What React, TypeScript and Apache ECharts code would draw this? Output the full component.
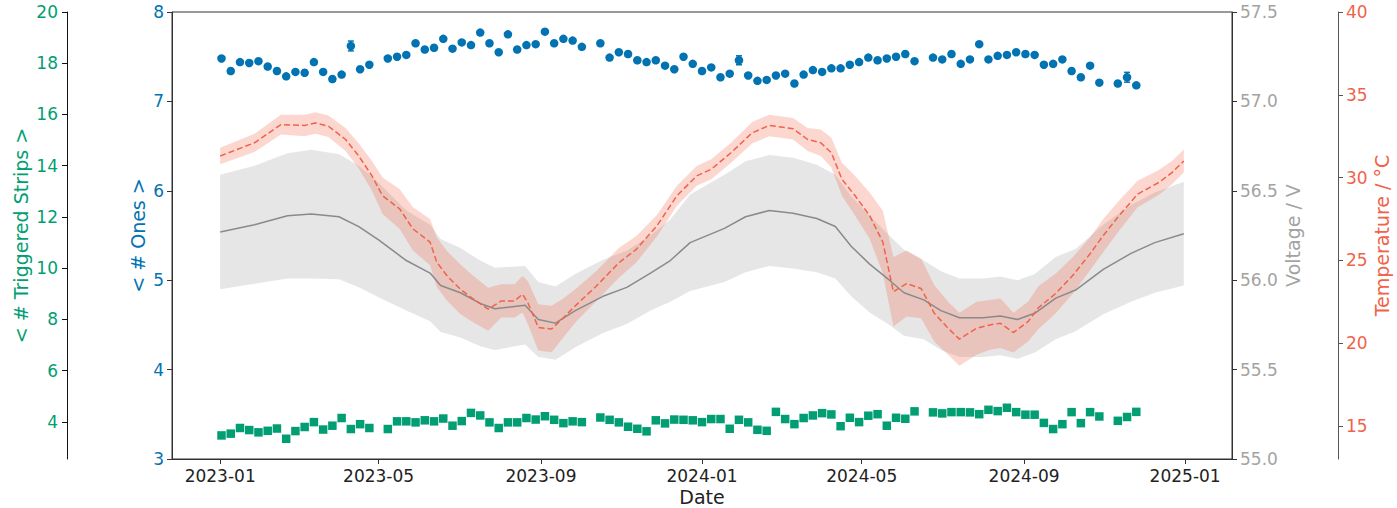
import React, { useEffect, useRef } from "react";
import * as echarts from "echarts";

const DAY = 86400000;
const ORIGIN = Date.UTC(2023, 0, 1);
const X_MIN = ORIGIN - 36.5 * DAY;
const X_MAX = ORIGIN + 730 * DAY + 36.5 * DAY;

const xTickLabels = ["2023-01", "2023-05", "2023-09", "2024-01", "2024-05", "2024-09", "2025-01"];
const onesTicks = [3, 4, 5, 6, 7, 8];
const stripsTicks = [4, 6, 8, 10, 12, 14, 16, 18, 20];
const voltTicks = [55.0, 55.5, 56.0, 56.5, 57.0, 57.5];
const tempTicks = [15, 20, 25, 30, 35, 40];

// weekly points, first one on day 1 (2023-01-02)
const firstWeekDay = 1;
const onesValues = [
  7.48, 7.34, 7.44, 7.43, 7.45, 7.39, 7.34, 7.28, 7.33, 7.32,
  7.44, 7.33, 7.25, 7.30, 7.62, 7.36, 7.41, null, 7.48, 7.50,
  7.52, 7.65, 7.58, 7.60, 7.70, 7.59, 7.66, 7.63, 7.77, 7.65,
  7.55, 7.75, 7.58, 7.63, 7.64, 7.78, 7.65, 7.70, 7.68, 7.61,
  null, 7.65, 7.49, 7.55, 7.53, 7.46, 7.44, 7.46, 7.40, 7.36,
  7.50, 7.42, 7.34, 7.38, 7.27, 7.31, 7.46, 7.29, 7.23, 7.24,
  7.29, 7.31, 7.20, 7.30, 7.35, 7.33, 7.37, 7.37, 7.41, 7.44,
  7.49, 7.46, 7.48, 7.50, 7.53, 7.45, null, 7.49, 7.47, 7.53,
  7.42, 7.47, 7.64, 7.47, 7.51, 7.52, 7.55, 7.53, 7.52, 7.41,
  7.42, 7.47, 7.34, 7.27, 7.40, 7.21, null, 7.20, 7.27, 7.18,
];
const onesErrIndex = [14, 56, 98];
const onesErrValue = [0.055, 0.05, 0.055];

const stripsValues = [
  3.47, 3.54, 3.76, 3.68, 3.59, 3.65, 3.74, 3.34, 3.64, 3.80,
  3.99, 3.70, 3.85, 4.15, 3.72, 3.91, 3.76, null, 3.72, 4.02,
  4.02, 3.98, 4.06, 4.02, 4.13, 3.85, 4.03, 4.35, 4.25, 3.98,
  3.76, 3.98, 3.98, 4.15, 4.09, 4.22, 4.08, 3.95, 4.02, 3.99,
  null, 4.17, 4.08, 3.98, 3.81, 3.73, 3.63, 4.06, 3.94, 4.09,
  4.08, 4.06, 3.99, 4.11, 4.11, 3.73, 4.08, 3.98, 3.69, 3.65,
  4.39, 4.11, 3.91, 4.15, 4.25, 4.34, 4.29, 3.83, 4.16, 3.99,
  4.24, 4.30, 3.85, 4.16, 4.12, 4.41, null, 4.37, 4.33, 4.38,
  4.38, 4.37, 4.30, 4.47, 4.42, 4.55, 4.38, 4.28, 4.28, 3.96,
  3.72, 3.91, 4.38, 3.95, 4.38, 4.21, null, 4.04, 4.19, 4.39,
];

// temperature curve, days since 2023-01-01
const tempDays = [
  0, 26, 46, 64, 72, 82, 95, 105, 115, 123,
  136, 146, 159, 164, 172, 182, 192, 203, 213, 223,
  229, 233, 241, 251, 259, 269, 285, 302, 315, 331,
  346, 361, 372, 387, 403, 416, 434, 445, 455, 463,
  471, 481, 492, 502, 510, 520, 531, 541, 552, 560,
  573, 583, 591, 601, 612, 620, 633, 646, 659, 669,
  682, 695, 711, 721, 730,
];
const tempMean = [
  31.3, 32.1, 33.2, 33.15, 33.3, 33.1, 32.3, 31.3, 30.1, 28.9,
  28.1, 26.9, 26.1, 24.9, 24.05, 23.25, 22.65, 22.05, 22.55, 22.55,
  22.95, 22.45, 20.95, 20.85, 21.45, 22.25, 23.45, 24.85, 25.65, 27.1,
  28.9, 30.1, 30.5, 31.5, 32.7, 33.15, 32.95, 32.3, 32.1, 31.5,
  29.9, 28.9, 27.7, 26.1, 23.1, 23.6, 23.3, 21.8, 20.85, 20.24,
  20.9, 21.1, 21.2, 20.64, 21.3, 22.15, 23.0, 24.1, 25.4, 26.5,
  27.8, 29.0, 29.7, 30.3, 31.0,
];
const tempHalf = [
  0.5, 0.55, 0.6, 0.65, 0.65, 0.65, 0.7, 0.75, 0.9, 1.1,
  1.2, 1.3, 1.4, 1.5, 1.5, 1.5, 1.4, 1.3, 1.0, 1.0,
  1.1, 1.3, 1.4, 1.4, 1.2, 1.0, 0.9, 0.9, 0.8, 0.65,
  0.6, 0.6, 0.6, 0.6, 0.65, 0.65, 0.65, 0.7, 0.8, 0.9,
  1.0, 1.2, 1.4, 1.9, 2.1, 2.0, 1.8, 1.7, 1.6, 1.6,
  1.6, 1.5, 1.5, 1.2, 1.2, 1.3, 1.2, 1.1, 1.0, 1.0,
  0.9, 0.8, 0.75, 0.7, 0.7,
];

// voltage curve
const voltDays = [
  0, 26, 51, 69, 90, 105, 120, 141, 159, 167,
  182, 197, 208, 231, 241, 254, 269, 290, 308, 326,
  341, 356, 382, 398, 416, 434, 452, 466, 478, 492,
  507, 518, 533, 546, 560, 578, 591, 604, 617, 633,
  648, 669, 690, 708, 730,
];
const voltMean = [
  56.27, 56.31, 56.36, 56.37, 56.355, 56.30, 56.225, 56.11, 56.04, 55.97,
  55.93, 55.87, 55.84, 55.86, 55.78, 55.76, 55.83, 55.91, 55.96, 56.04,
  56.11, 56.21, 56.29, 56.355, 56.39, 56.375, 56.345, 56.30, 56.19, 56.09,
  56.00, 55.93, 55.89, 55.83, 55.79, 55.79, 55.80, 55.78, 55.815, 55.90,
  55.945, 56.06, 56.15, 56.21, 56.26,
];
const voltHalf = [
  0.32, 0.33, 0.35, 0.36, 0.35, 0.34, 0.32, 0.28, 0.27, 0.26,
  0.25, 0.24, 0.23, 0.22, 0.21, 0.205, 0.205, 0.205, 0.205, 0.21,
  0.23, 0.27, 0.30, 0.31, 0.31, 0.31, 0.30, 0.29, 0.28, 0.27,
  0.25, 0.24, 0.22, 0.22, 0.22, 0.22, 0.22, 0.22, 0.22, 0.23,
  0.23, 0.25, 0.27, 0.28, 0.29,
];

const BLUE = "#0173b2";
const GREEN = "#029e73";
const RED = "#f0634a";
const GRAY_TXT = "#a3a3a3";
const GRAY_LINE = "#8a8a8a";
const SPINE = "#333333";
const FONT = "DejaVu Sans";

function labelToTs(s: string) {
  const [y, m] = s.split("-").map(Number);
  return Date.UTC(y, m - 1, 1);
}
function fmtTs(v: number) {
  const d = new Date(v);
  const m = d.getUTCMonth() + 1;
  return d.getUTCFullYear() + "-" + (m < 10 ? "0" + m : "" + m);
}

function bandSeries(ts: number[], lo: number[], hi: number[], yAxisIndex: number, fill: string) {
  return {
    type: "custom",
    yAxisIndex,
    silent: true,
    clip: true,
    data: ts.map((t, i) => [t, lo[i], hi[i]]),
    encode: { x: 0, y: [1, 2] },
    renderItem: (params: any, api: any) => {
      if (params.dataIndex !== 0) return null;
      const upper = ts.map((t, i) => api.coord([t, hi[i]]));
      const lower = ts.map((t, i) => api.coord([t, lo[i]])).reverse();
      return {
        type: "polygon",
        shape: { points: upper.concat(lower) },
        style: { fill, stroke: "none" },
      };
    },
  };
}

export default function App() {
  const ref = useRef<HTMLDivElement>(null);
  useEffect(() => {
    if (!ref.current) return;
    const chart = echarts.init(ref.current, undefined, { renderer: "svg" });

    const xTicks = xTickLabels.map(labelToTs);
    const weekTs = (i: number) => ORIGIN + (firstWeekDay + 7 * i) * DAY;

    const onesData: any[] = [];
    onesValues.forEach((v, i) => { if (v != null) onesData.push([weekTs(i), v]); });
    const stripsData: any[] = [];
    stripsValues.forEach((v, i) => { if (v != null) stripsData.push([weekTs(i), v]); });
    const errData = onesErrIndex.map((idx, k) => [weekTs(idx), onesValues[idx], onesErrValue[k]]);

    const tTs = tempDays.map((d) => ORIGIN + d * DAY);
    const vTs = voltDays.map((d) => ORIGIN + d * DAY);

    const tempLine = tTs.map((t, i) => [t, tempMean[i]]);
    const tempLo = tempMean.map((m, i) => m - tempHalf[i]);
    const tempHi = tempMean.map((m, i) => m + tempHalf[i]);
    const voltLine = vTs.map((t, i) => [t, voltMean[i]]);
    const voltLo = voltMean.map((m, i) => m - voltHalf[i]);
    const voltHi = voltMean.map((m, i) => m + voltHalf[i]);

    const axisCommon = (color: string) => ({
      type: "value" as const,
      splitLine: { show: false },
      axisLine: { show: true, lineStyle: { color: SPINE, width: 1 } },
      axisTick: { show: true, length: 5, lineStyle: { color: SPINE } },
      nameLocation: "middle" as const,
      nameRotate: 90,
      nameMoveOverlap: false,
      nameTextStyle: { color, fontSize: 19, fontFamily: FONT },
    });

    chart.setOption({
      animation: false,
      grid: {
        left: 172, right: 165, top: 12, bottom: 49,
        show: true, borderColor: SPINE, borderWidth: 1, backgroundColor: "transparent",
        containLabel: false,
        outerBoundsMode: "none",
      },
      xAxis: {
        type: "value",
        min: X_MIN,
        max: X_MAX,
        splitLine: { show: false },
        axisLine: { show: true, lineStyle: { color: SPINE } },
        axisTick: { show: true, length: 5, customValues: xTicks, lineStyle: { color: SPINE } },
        axisLabel: {
          customValues: xTicks, formatter: (v: number) => fmtTs(v),
          fontSize: 17, fontFamily: FONT, color: "#222", margin: 8,
        },
        name: "Date",
        nameLocation: "middle",
        nameGap: 28,
        nameMoveOverlap: false,
        nameTextStyle: { color: "#222", fontSize: 19, fontFamily: FONT },
      },
      yAxis: [
        {
          ...axisCommon(BLUE),
          position: "left",
          min: onesTicks[0], max: onesTicks[onesTicks.length - 1], interval: 1,
          axisLabel: { color: BLUE, fontSize: 17, fontFamily: FONT, margin: 8 },
          name: "< # Ones >", nameGap: 25,
        },
        {
          ...axisCommon(GREEN),
          position: "left", offset: 105,
          min: 2.55, max: 20,
          axisTick: { show: true, length: 5, customValues: stripsTicks, lineStyle: { color: "#111" } },
          axisLine: { show: true, lineStyle: { color: "#111" } },
          axisLabel: { customValues: stripsTicks, color: GREEN, fontSize: 17, fontFamily: FONT, margin: 9 },
          name: "< # Triggered Strips >", nameGap: 37,
        },
        {
          ...axisCommon(GRAY_TXT),
          position: "right",
          min: voltTicks[0], max: voltTicks[voltTicks.length - 1], interval: 0.5,
          axisLabel: { color: GRAY_TXT, fontSize: 17, fontFamily: FONT, margin: 8, formatter: (v: number) => v.toFixed(1) },
          name: "Voltage / V", nameGap: 51,
        },
        {
          ...axisCommon(RED),
          position: "right", offset: 106,
          min: 13, max: 40,
          axisLine: { show: true, lineStyle: { color: "#555" } },
          axisTick: { show: true, length: 5, customValues: tempTicks, lineStyle: { color: "#555" } },
          axisLabel: { customValues: tempTicks, color: RED, fontSize: 17, fontFamily: FONT, margin: 8 },
          name: "Temperature / °C", nameGap: 34,
        },
      ],
      series: [
        bandSeries(vTs, voltLo, voltHi, 2, "rgba(128,128,128,0.2)"),
        bandSeries(tTs, tempLo, tempHi, 3, "rgba(240,100,70,0.26)"),
        {
          type: "line", yAxisIndex: 2, data: voltLine, showSymbol: false, symbol: "none",
          lineStyle: { color: GRAY_LINE, width: 1.5 },
        },
        {
          type: "line", yAxisIndex: 3, data: tempLine, showSymbol: false, symbol: "none",
          lineStyle: { color: RED, width: 1.5, type: [6, 3] },
        },
        {
          type: "custom", yAxisIndex: 0, data: errData,
          encode: { x: 0, y: 1 },
          renderItem: (params: any, api: any) => {
            const x = api.value(0), y = api.value(1), e = api.value(2);
            const top = api.coord([x, y + e]);
            const bot = api.coord([x, y - e]);
            const c = 3;
            const st = { stroke: BLUE, lineWidth: 1.5 };
            return {
              type: "group",
              children: [
                { type: "line", shape: { x1: top[0], y1: top[1], x2: bot[0], y2: bot[1] }, style: st },
                { type: "line", shape: { x1: top[0] - c, y1: top[1], x2: top[0] + c, y2: top[1] }, style: st },
                { type: "line", shape: { x1: bot[0] - c, y1: bot[1], x2: bot[0] + c, y2: bot[1] }, style: st },
              ],
            };
          },
        },
        {
          type: "scatter", yAxisIndex: 0, data: onesData, symbol: "circle", symbolSize: 8.5,
          itemStyle: { color: BLUE, opacity: 1 },
        },
        {
          type: "scatter", yAxisIndex: 1, data: stripsData, symbol: "rect", symbolSize: 8.5,
          itemStyle: { color: GREEN, opacity: 1 },
        },
      ],
    });
    return () => chart.dispose();
  }, []);
  return (
    <div
      ref={ref}
      style={{ position: "fixed", left: 0, top: 0, width: 1397, height: 508, background: "#fff" }}
    />
  );
}
